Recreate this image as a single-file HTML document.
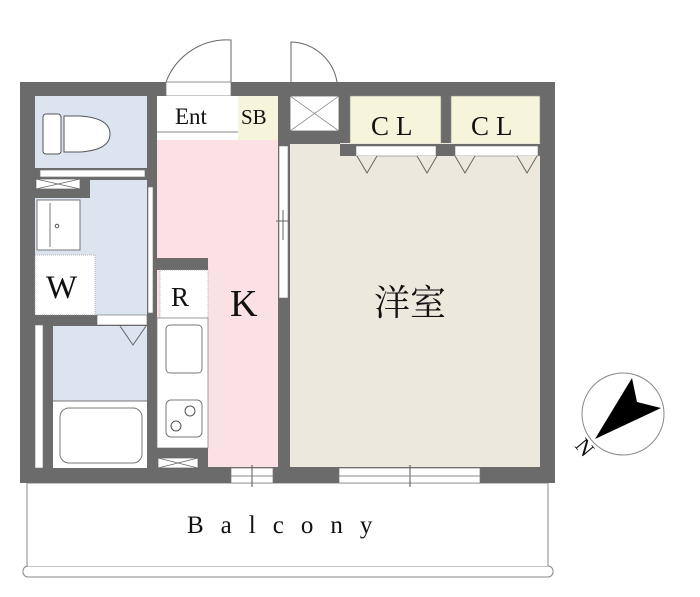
<!DOCTYPE html>
<html><head><meta charset="utf-8"><style>
html,body{margin:0;padding:0;background:#fff;}
svg{display:block;}
text{font-family:"Liberation Serif","Noto Serif CJK SC",serif;fill:#111;}
</style></head><body>
<svg width="700" height="597" viewBox="0 0 700 597" xmlns="http://www.w3.org/2000/svg">
<path d="M231 82 L231 40 A65 65 0 0 0 166 82" fill="none" stroke="#666" stroke-width="1"/>
<path d="M291 82 L291 42 A48 48 0 0 1 337 82" fill="none" stroke="#666" stroke-width="1"/>
<rect x="27" y="483" width="521" height="84" fill="#fff" stroke="#888" stroke-width="1"/>
<rect x="23" y="566" width="530" height="11" rx="5" fill="#fff" stroke="#888" stroke-width="1"/>
<rect x="28" y="484" width="519" height="82" fill="#fff"/>
<rect x="20" y="82" width="535" height="401" fill="#6b6b6b"/>
<rect x="166" y="82" width="65" height="14" fill="#fff" stroke="#777" stroke-width="0.8"/>
<rect x="35" y="96" width="112" height="72" fill="#dce4f0"/>
<rect x="43" y="114" width="18" height="40" rx="3" fill="#fff" stroke="#555"/>
<path d="M64 116 L80 116 Q110 118 110 134 Q110 150 80 152 L64 152 Z" fill="#fff" stroke="#555"/>
<rect x="40" y="170" width="105" height="7" fill="#fff" stroke="#777" stroke-width="0.7"/>
<rect x="90" y="180" width="57" height="135" fill="#dce4f0"/>
<rect x="35" y="198" width="55" height="60" fill="#dce4f0"/>
<rect x="36" y="179" width="44" height="10" fill="#fff" stroke="#666" stroke-width="0.7"/>
<path d="M36 179 L80 189 M80 179 L36 189" stroke="#666" stroke-width="0.7"/>
<rect x="37" y="200" width="43" height="50" fill="#fff" stroke="#777"/>
<line x1="50" y1="203" x2="50" y2="247" stroke="#777"/>
<circle cx="57" cy="226" r="1.8" fill="none" stroke="#555"/>
<rect x="35" y="255" width="60" height="60" fill="#fff" stroke="#999" stroke-dasharray="1,1" stroke-width="0.7"/>
<rect x="148" y="187" width="5" height="126" fill="#fff" stroke="#777" stroke-width="0.6"/>
<rect x="97" y="315" width="50" height="10" fill="#fff" stroke="#666" stroke-width="0.6"/>
<rect x="53" y="326" width="94" height="142" fill="#fff"/>
<rect x="53" y="326" width="94" height="75" fill="#dce4f0"/>
<line x1="53" y1="401" x2="147" y2="401" stroke="#777"/>
<rect x="60" y="408" width="82" height="55" rx="9" fill="#fff" stroke="#777"/>
<path d="M120 326 L133 345 L146 326" fill="none" stroke="#666"/>
<rect x="35" y="325" width="8" height="143" fill="#fff" stroke="#777" stroke-width="0.6"/>
<rect x="157" y="96" width="81" height="44" fill="#fff"/>
<line x1="157" y1="132" x2="238" y2="132" stroke="#888"/>
<rect x="238" y="96" width="40" height="44" fill="#f7f4dc"/>
<rect x="157" y="140" width="121" height="327" fill="#fce1e4"/>
<rect x="157" y="258" width="51" height="12" fill="#6b6b6b"/>
<rect x="160" y="270" width="48" height="48" fill="#fff" stroke="#999" stroke-dasharray="1,1" stroke-width="0.7"/>
<rect x="157" y="318" width="51" height="130" fill="#fff" stroke="#777" stroke-width="0.7"/>
<rect x="166" y="325" width="36" height="48" rx="4" fill="#fff" stroke="#777"/>
<rect x="166" y="400" width="36" height="37" rx="5" fill="#fff" stroke="#777"/>
<circle cx="190" cy="411" r="5" fill="none" stroke="#555"/>
<circle cx="176" cy="426" r="5" fill="none" stroke="#555"/>
<rect x="157" y="448" width="51" height="20" fill="#6b6b6b"/>
<rect x="158" y="458" width="40" height="10" fill="#fff" stroke="#666" stroke-width="0.7"/>
<path d="M158 458 L198 468 M198 458 L158 468" stroke="#666" stroke-width="0.7"/>
<rect x="231" y="468" width="42" height="15" fill="#fff" stroke="#777" stroke-width="0.7"/>
<line x1="252" y1="465" x2="252" y2="487" stroke="#555"/>
<line x1="231" y1="476" x2="273" y2="476" stroke="#888"/>
<rect x="279" y="146" width="9" height="152" fill="#fff" stroke="#777" stroke-width="0.6"/>
<line x1="283" y1="210" x2="283" y2="240" stroke="#666"/>
<line x1="276" y1="221" x2="290" y2="221" stroke="#666"/>
<rect x="290" y="96" width="49" height="35" fill="#fff" stroke="#666" stroke-width="0.8"/>
<path d="M290 96 L339 131 M339 96 L290 131" stroke="#777" stroke-width="0.7"/>
<rect x="350" y="96" width="91" height="48" fill="#f7f4dc" stroke="#888" stroke-width="0.6"/>
<rect x="451" y="96" width="89" height="48" fill="#f7f4dc" stroke="#888" stroke-width="0.6"/>
<rect x="290" y="143" width="250" height="324" fill="#ece8de"/>
<rect x="290" y="131" width="50" height="13" fill="#6b6b6b"/>
<rect x="340" y="144" width="200" height="12" fill="#6b6b6b"/>
<rect x="356" y="146" width="80" height="10" fill="#fff" stroke="#777" stroke-width="0.6"/>
<rect x="455" y="146" width="83" height="10" fill="#fff" stroke="#777" stroke-width="0.6"/>
<path d="M357 156 L367 173 L377 156 M417 156 L427 173 L437 156 M455 156 L465 173 L475 156 M517 156 L527 173 L537 156" fill="#ece8de" stroke="#666"/>
<rect x="339" y="468" width="141" height="15" fill="#fff" stroke="#777" stroke-width="0.7"/>
<line x1="410" y1="465" x2="410" y2="487" stroke="#555"/>
<line x1="339" y1="476" x2="480" y2="476" stroke="#888"/>
<text x="175" y="124" font-size="23">Ent</text>
<text x="241" y="124" font-size="21">SB</text>
<text x="371" y="135" font-size="27" letter-spacing="7">CL</text>
<text x="471" y="135" font-size="27" letter-spacing="7">CL</text>
<text x="46" y="298" font-size="33">W</text>
<text x="171" y="306" font-size="27">R</text>
<text x="230" y="316" font-size="38">K</text>
<text x="374" y="315" font-size="36" font-family="Noto Serif CJK SC, serif">洋室</text>
<text x="187" y="533" font-size="25" letter-spacing="17">Balcony</text>
<circle cx="623" cy="414" r="41" fill="#fff" stroke="#888" stroke-width="1"/>
<path d="M595 439 L632 378 L637 402 L661 408 Z" fill="#000"/>
<text x="0" y="0" font-size="22" transform="translate(574,446) rotate(50)">N</text>
</svg>
</body></html>
